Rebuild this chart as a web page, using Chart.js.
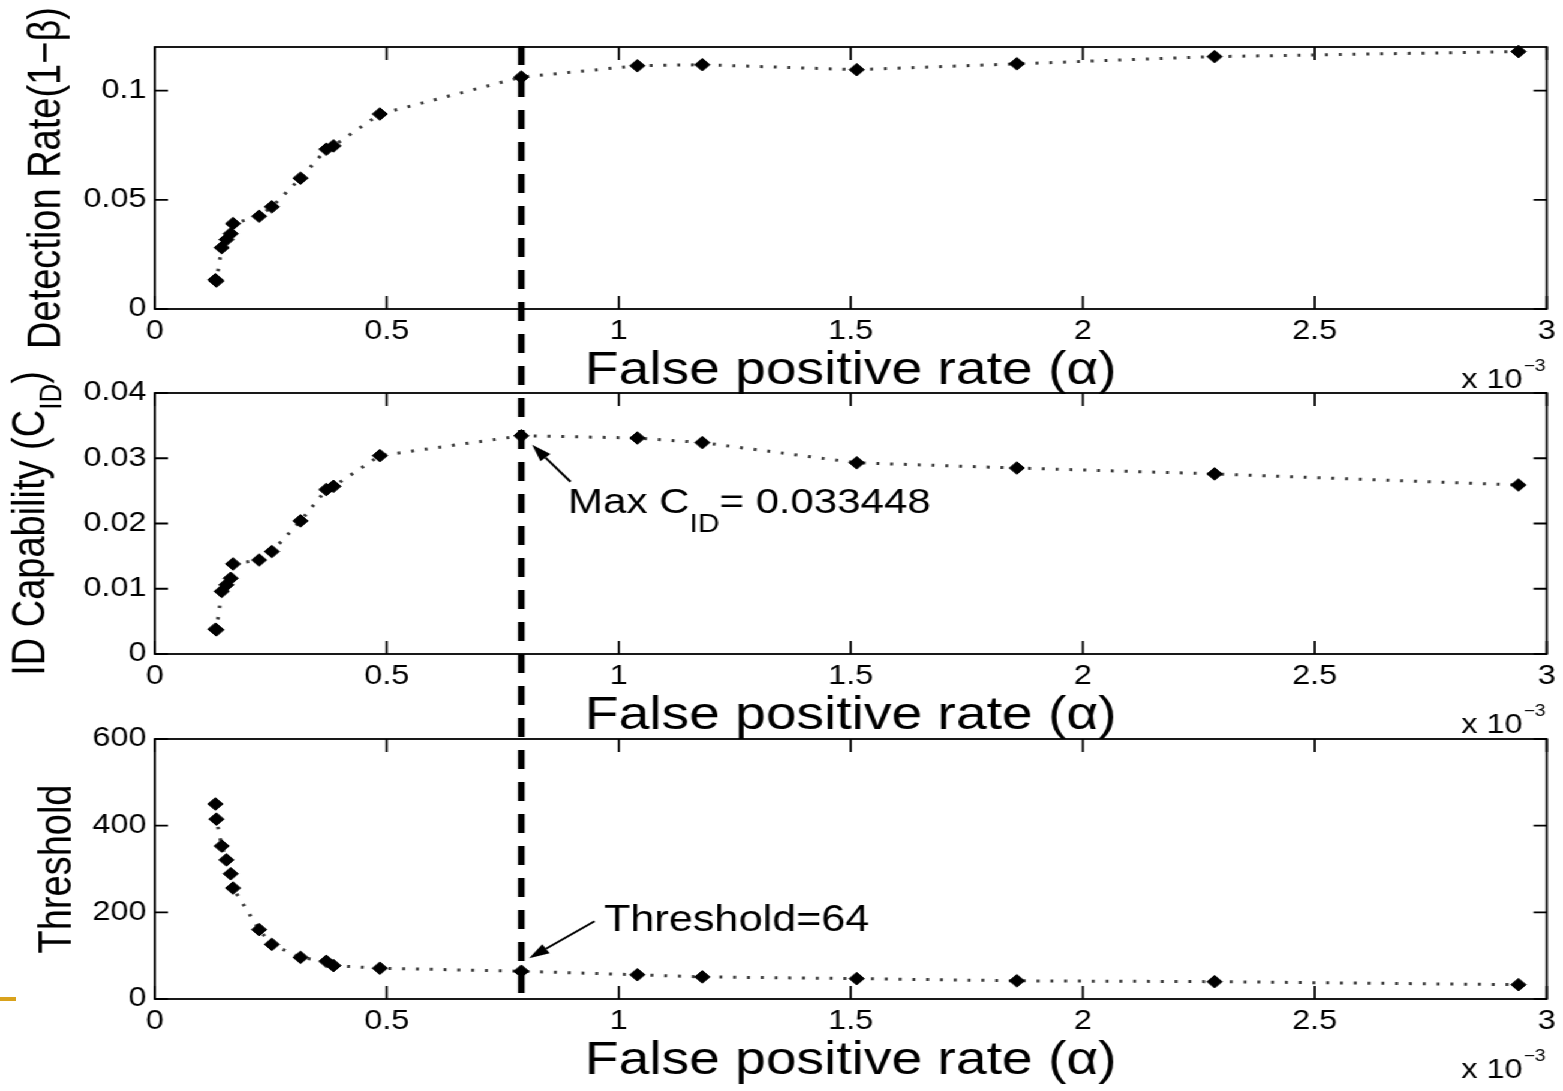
<!DOCTYPE html>
<html>
<head>
<meta charset="utf-8">
<script src="https://cdn.jsdelivr.net/npm/chart.js@4.4.1/dist/chart.umd.min.js"></script>
<style>
  html, body { margin: 0; padding: 0; background: #ffffff; overflow: hidden; }
  #fig { position: absolute; left: 0; top: 0; width: 1303px; height: 1091px;
         transform-origin: 0 0; transform: scaleX(1.19954); }
  #fig canvas { position: absolute; left: 0; top: 0; }
  #rule { position: absolute; left: 0; top: 997px; width: 16px; height: 4px; background: #d9a21c; }
</style>
</head>
<body>
<div id="fig">
  <canvas id="cDet" width="1303" height="1091"></canvas>
  <canvas id="cCid" width="1303" height="1091"></canvas>
  <canvas id="cThr" width="1303" height="1091"></canvas>
</div>
<div id="rule"></div>
<script>
// False positive rate, in units of 10^-3
const FPR = [0.1307, 0.1328, 0.1442, 0.1544, 0.1636, 0.1686, 0.225, 0.2525, 0.3143, 0.370,
             0.3854, 0.4853, 0.790, 1.040, 1.180, 1.513, 1.858, 2.284, 2.939];
// Detection rate (1 - beta)
const DETECTION = [0.0134, 0.0128, 0.0281, 0.0318, 0.0345, 0.0391, 0.0425, 0.0468, 0.0599, 0.0732,
                   0.0747, 0.0893, 0.1062, 0.1114, 0.1119, 0.1096, 0.1123, 0.1156, 0.1179];
// Intrusion detection capability C_ID
const CID = [0.0038, 0.0037, 0.0096, 0.0106, 0.0116, 0.0138, 0.0144, 0.0157, 0.0204, 0.0252,
             0.0257, 0.0304, 0.033448, 0.0331, 0.0324, 0.0293, 0.0285, 0.0276, 0.0259];
// Detection threshold
const THRESHOLD = [450, 415, 353, 321, 289, 256, 160, 126, 96, 87,
                   77, 71, 64, 56, 51, 47, 42, 40, 33];

// Index of the operating point with the largest C_ID
const PEAK = CID.indexOf(Math.max(...CID));

const X_TICKS = [0, 0.5, 1, 1.5, 2, 2.5, 3];
const DET_TICKS = [0, 0.05, 0.1];
const CID_TICKS = [0, 0.01, 0.02, 0.03, 0.04];
const THR_TICKS = [0, 200, 400, 600];

const X_TITLE = 'False positive rate (\u03B1)';
const X_EXP = ['x 10', '\u22123'];

const FONT = "'Liberation Sans', Arial, Helvetica, sans-serif";
const charts = [];

function font(size) { return size + 'px ' + FONT; }

function arrow(ctx, tx, ty, hx, hy) {
  const ang = Math.atan2(hy - ty, hx - tx);
  const len = 17, half = 5.5;
  const bx = hx - len * Math.cos(ang), by = hy - len * Math.sin(ang);
  ctx.save();
  ctx.strokeStyle = '#000'; ctx.fillStyle = '#000'; ctx.lineWidth = 2;
  ctx.beginPath(); ctx.moveTo(tx, ty); ctx.lineTo(bx, by); ctx.stroke();
  ctx.beginPath();
  ctx.moveTo(hx, hy);
  ctx.lineTo(bx + half * Math.sin(ang), by - half * Math.cos(ang));
  ctx.lineTo(bx - half * Math.sin(ang), by + half * Math.cos(ang));
  ctx.closePath(); ctx.fill();
  ctx.restore();
}

// Text made of runs; a run marked with a drop is set below the baseline
function runsWidth(ctx, runs) {
  let w = 0;
  runs.forEach(r => { ctx.font = font(r.size); w += ctx.measureText(r.text).width; });
  return w;
}
function drawRuns(ctx, runs, x, y) {
  runs.forEach(r => {
    ctx.font = font(r.size);
    ctx.fillText(r.text, x, y + (r.drop || 0));
    x += ctx.measureText(r.text).width;
  });
}

// Boxed axes with inward ticks on all four sides, y label, and x exponent
const boxPlugin = {
  id: 'box',
  beforeDatasetsDraw(chart, args, opts) {
    const { ctx, chartArea: a, scales } = chart;
    ctx.save();
    ctx.strokeStyle = '#000';
    ctx.lineWidth = 1.8;
    ctx.strokeRect(a.left, a.top, a.right - a.left, a.bottom - a.top);
    ctx.beginPath();
    scales.x.ticks.forEach(t => {
      const px = scales.x.getPixelForValue(t.value);
      ctx.moveTo(px, a.bottom); ctx.lineTo(px, a.bottom - 13);
      ctx.moveTo(px, a.top); ctx.lineTo(px, a.top + 13);
    });
    scales.y.ticks.forEach(t => {
      const py = scales.y.getPixelForValue(t.value);
      ctx.moveTo(a.left, py); ctx.lineTo(a.left + 11, py);
      ctx.moveTo(a.right, py); ctx.lineTo(a.right - 11, py);
    });
    ctx.stroke();
    ctx.restore();
  },
  afterDraw(chart, args, opts) {
    const { ctx, chartArea: a } = chart;
    ctx.save();
    ctx.fillStyle = '#000';
    ctx.textBaseline = 'alphabetic';
    // y axis label, rotated, centred on the plot area
    const yc = (a.top + a.bottom) / 2;
    ctx.translate(opts.labelX, yc);
    ctx.rotate(-Math.PI / 2);
    const w = runsWidth(ctx, opts.label);
    drawRuns(ctx, opts.label, -w / 2, 0);
    ctx.restore();

    // x 10^-3 exponent at the lower right
    ctx.save();
    ctx.fillStyle = '#000';
    ctx.textBaseline = 'alphabetic';
    ctx.font = font(16);
    const ws = ctx.measureText(X_EXP[1]).width;
    ctx.font = font(27);
    const wm = ctx.measureText(X_EXP[0]).width;
    const xr = a.right - 1;
    ctx.fillText(X_EXP[0], xr - ws - 1 - wm, a.bottom + 79);
    ctx.font = font(16);
    ctx.fillText(X_EXP[1], xr - ws, a.bottom + 62);
    ctx.restore();

    if (opts.note) opts.note(chart);
  }
};

function makeChart(id, values, yMax, yTicks, padTop, padBottom, label, labelX, note) {
  const cfg = {
    type: 'line',
    data: {
      datasets: [{
        data: FPR.map((x, i) => ({ x: x, y: values[i] })),
        borderColor: '#3c3c3c',
        borderWidth: 3,
        borderDash: [2.5, 9],
        pointStyle: 'rectRot',
        pointRadius: 6.3,
        pointBackgroundColor: '#000',
        pointBorderColor: '#000',
        pointBorderWidth: 1,
        tension: 0,
        clip: false
      }]
    },
    options: {
      responsive: false,
      animation: false,
      devicePixelRatio: 1,
      events: [],
      layout: { padding: { left: 0, right: 13, top: padTop, bottom: padBottom } },
      plugins: {
        legend: { display: false },
        tooltip: { enabled: false },
        box: { label: label, labelX: labelX, note: note }
      },
      scales: {
        x: {
          type: 'linear', min: 0, max: 3,
          grid: { display: false, drawTicks: false },
          border: { display: false },
          afterBuildTicks: s => { s.ticks = X_TICKS.map(v => ({ value: v })); },
          afterFit: s => { s.height = 90; },
          ticks: {
            autoSkip: false, maxRotation: 0, padding: 6, color: '#000',
            font: { family: FONT, size: 27 },
            callback: v => String(v)
          },
          title: {
            display: true, text: X_TITLE, color: '#000',
            font: { family: FONT, size: 46 }, padding: 0
          }
        },
        y: {
          type: 'linear', min: 0, max: yMax,
          grid: { display: false, drawTicks: false },
          border: { display: false },
          afterBuildTicks: s => { s.ticks = yTicks.map(v => ({ value: v })); },
          afterFit: s => { s.width = 129; },
          ticks: {
            autoSkip: false, padding: 7, color: '#000',
            font: { family: FONT, size: 27 },
            callback: v => String(v)
          }
        }
      }
    },
    plugins: [boxPlugin]
  };
  const c = new Chart(document.getElementById(id), cfg);
  charts.push(c);
  return c;
}

function peakPixel(chart, values) {
  return {
    x: chart.scales.x.getPixelForValue(FPR[PEAK]),
    y: chart.scales.y.getPixelForValue(values[PEAK])
  };
}

makeChart('cDet', DETECTION, 0.12, DET_TICKS, 47, 692,
  [{ text: 'Detection Rate(1\u2212\u03B2)', size: 38 }], 50, null);

makeChart('cCid', CID, 0.04, CID_TICKS, 393, 347,
  [{ text: 'ID Capability (C', size: 38 }, { text: 'ID', size: 26, drop: 14 }, { text: ')', size: 38 }], 37,
  chart => {
    const { ctx } = chart;
    const p = peakPixel(chart, CID);
    arrow(ctx, p.x + 41, p.y + 46, p.x + 9, p.y + 9);
    ctx.save();
    ctx.fillStyle = '#000';
    ctx.textBaseline = 'alphabetic';
    drawRuns(ctx, [
      { text: 'Max C', size: 35 },
      { text: 'ID', size: 25, drop: 19 },
      { text: '= ' + CID[PEAK], size: 35 }
    ], p.x + 39, p.y + 77);
    ctx.restore();
  });

makeChart('cThr', THRESHOLD, 600, THR_TICKS, 739, 2,
  [{ text: 'Threshold', size: 38 }], 59,
  chart => {
    const { ctx } = chart;
    const p = peakPixel(chart, THRESHOLD);
    arrow(ctx, p.x + 61, p.y - 50, p.x + 6.5, p.y - 13);
    ctx.save();
    ctx.fillStyle = '#000';
    ctx.textBaseline = 'alphabetic';
    ctx.font = font(36);
    ctx.fillText('Threshold=' + THRESHOLD[PEAK], p.x + 69, p.y - 40);
    ctx.restore();
    // vertical dashed marker through all three panels at the peak C_ID rate
    const top = charts[0].chartArea.top;
    const bottom = chart.chartArea.bottom + 5;
    ctx.save();
    ctx.strokeStyle = '#000';
    ctx.lineWidth = 5.5;
    ctx.setLineDash([19, 13]);
    ctx.beginPath();
    ctx.moveTo(p.x, top - 1);
    ctx.lineTo(p.x, bottom);
    ctx.stroke();
    ctx.restore();
  });
</script>
</body>
</html>
